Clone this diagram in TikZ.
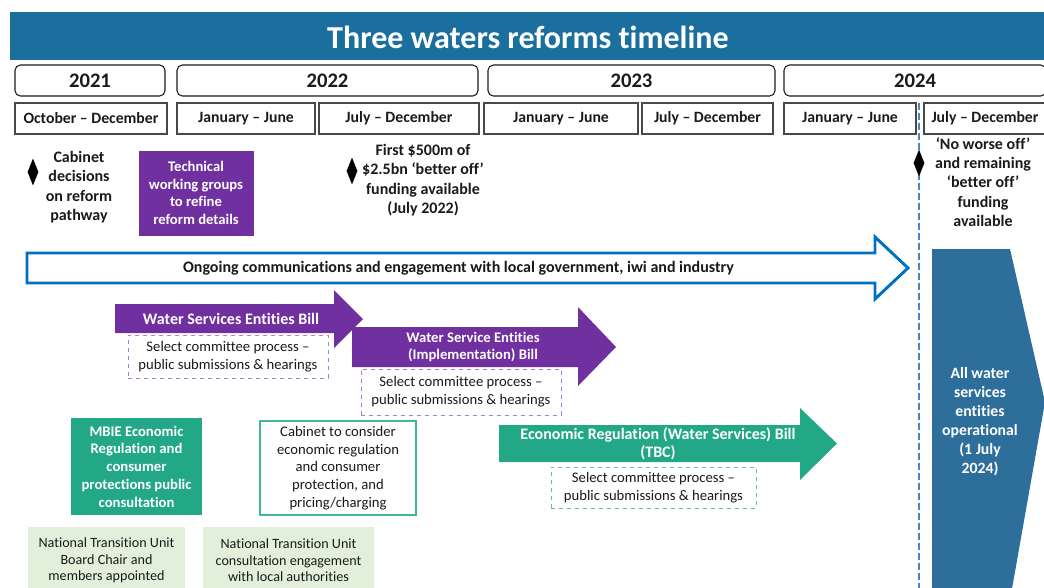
\documentclass[tikz,border=0pt]{standalone}
\usepackage{fontspec}
\setmainfont[Ligatures=NoCommon]{Carlito}
\usetikzlibrary{positioning,shapes.geometric,calc}
\definecolor{ink}{HTML}{1A1A1A}
\definecolor{barblue}{HTML}{1A6F9F}
\definecolor{lineblue}{HTML}{0070C0}
\definecolor{dashblue}{HTML}{4A86BE}
\definecolor{opblue}{HTML}{2E6E9B}
\definecolor{wpurple}{HTML}{7030A0}
\definecolor{lpurple}{HTML}{B07CD0}
\definecolor{wgreen}{HTML}{23A887}
\definecolor{lgreen}{HTML}{5CC2A6}
\definecolor{pale}{HTML}{E2EFDA}
\tikzset{
  wh/.style 2 args={minimum width=#1*0.75pt,minimum height=#2*0.75pt},
  base/.style={inner sep=0pt,align=center,font=\fontsize{11}{13.3}\selectfont,text=ink},
  year/.style={base,draw=ink,rounded corners=4pt,line width=0.8pt,font=\bfseries\fontsize{15.5}{18}\selectfont},
  half/.style={base,draw=ink!80,line width=1pt,font=\bfseries\fontsize{11.8}{14}\selectfont},
  hito/.style={diamond,fill=black,inner sep=0pt,wh={11}{27}},
  nota/.style={base,font=\bfseries\fontsize{12}{14.5}\selectfont},
  caja/.style={base,font=\bfseries\fontsize{11}{13.3}\selectfont,text=white},
  rotulo/.style={caja,font=\bfseries\fontsize{12}{13.5}\selectfont},
  proc/.style={base,dashed,line width=0.6pt,fill=white},
  ntu/.style={base,fill=pale,font=\fontsize{10.6}{12.4}\selectfont},
  flecha/.style={line join=miter},
}
\begin{document}
\begin{tikzpicture}[x=0.75pt,y=-0.75pt]
  \useasboundingbox (0,0) rectangle (1044,587);
  \clip (0,0) rectangle (1044,587);
  % title bar
  \fill[barblue] (10,12) rectangle (1044,60);
  \node[base,text=white,font=\bfseries\fontsize{24}{28}\selectfont] (title) at (528,37.5) {Three waters reforms timeline};
  % years and half years
  \node[year,wh={150}{31}] (y21) at (90,80.5) {2021};
  \node[year,wh={301}{31}] (y22) at (327.5,80.5) {2022};
  \node[year,wh={287}{31}] (y23) at (631.5,80.5) {2023};
  \node[year,wh={262}{31}] (y24) at (915,80.5) {2024};
  \node[half,wh={152}{31}] (h1) at (91,118.5) {October -- December};
  \node[half,wh={138}{31}] (h2) at (246,118.5) {January -- June};
  \node[half,wh={160}{31}] (h3) at (399,118.5) {July -- December};
  \node[half,wh={154}{31}] (h4) at (561,118.5) {January -- June};
  \node[half,wh={131}{31}] (h5) at (707.5,118.5) {July -- December};
  \node[half,wh={132}{31}] (h6) at (850,118.5) {January -- June};
  \node[half,wh={122}{31}] (h7) at (985,118.5) {July -- December};
  \draw[dashblue,line width=1.5pt,dash pattern=on 5pt off 2.5pt] (919,103) -- (919,600);
  % milestones
  \node[hito] (d1) at (33,172) {};
  \node[nota] (cab) at (79,187) {Cabinet\\decisions\\on reform\\pathway};
  \node[caja,fill=wpurple,wh={115}{85}] (tech) at (196,193) {Technical\\working groups\\to refine\\reform details};
  \node[hito] (d2) at (352,171) {};
  \node[nota] (fund) at (423,180) {First \$500m of\\\$2.5bn ‘better off’\\funding available\\(July 2022)};
  \node[hito] (d3) at (919,163) {};
  \node[nota] (worse) at (983,182) {‘No worse off’\\and remaining\\‘better off’\\funding\\available};
  % engagement arrow
  \draw[flecha,lineblue,line width=2.2pt,fill=white] (27,253) -- (875,253) -- (875,237) -- (908,268) -- (875,299) -- (875,283) -- (27,283) -- cycle;
  \node[nota] (eng) at (458.5,268.5) {Ongoing communications and engagement with local government, iwi and industry};
  % bills
  \fill[wpurple] (115,304) -- (334,304) -- (334,290) -- (363,319) -- (334,348) -- (334,333) -- (115,333) -- cycle;
  \node[rotulo] (wseb) at (231,318.5) {Water Services Entities Bill};
  \node[proc,draw=lpurple,wh={200}{43}] (sel1) at (228,356.5) {Select committee process --\\public submissions \& hearings};
  \fill[wpurple] (352,327) -- (578,327) -- (578,307) -- (616,347) -- (578,386) -- (578,367) -- (352,367) -- cycle;
  \node[caja] (impl) at (473,347) {Water Service Entities\\(Implementation) Bill};
  \node[proc,draw=lpurple,wh={200}{46}] (sel2) at (461,392) {Select committee process --\\public submissions \& hearings};
  \fill[wgreen] (499,425) -- (800,425) -- (800,408) -- (837,443.5) -- (800,480) -- (800,462) -- (499,462) -- cycle;
  \node[rotulo] (econ) at (658,444) {Economic Regulation (Water Services) Bill\\(TBC)};
  \node[proc,draw=lgreen,wh={205}{41}] (sel3) at (653.5,487.5) {Select committee process --\\public submissions \& hearings};
  % consultation
  \node[caja,fill=wgreen,wh={131}{97}] (mbie) at (136.5,466.5) {MBIE Economic\\Regulation and\\consumer\\protections public\\consultation};
  \node[base,draw=wgreen!85,line width=1.2pt,fill=white,wh={156}{94}] (cons) at (338,468) {Cabinet to consider\\economic regulation\\and consumer\\protection, and\\pricing/charging};
  \node[ntu,wh={157}{67}] (ntu1) at (106.5,560.5) {National Transition Unit\\Board Chair and\\members appointed};
  \node[ntu,wh={171}{67}] (ntu2) at (288.5,560.5) {National Transition Unit\\consultation engagement\\with local authorities};
  % entities go live
  \fill[opblue] (932,249) -- (1010,249) -- (1045,402) -- (1010,600) -- (932,600) -- cycle;
  \node[caja,font=\bfseries\fontsize{11.8}{14.3}\selectfont] (live) at (980,421.5) {All water\\services\\entities\\operational\\(1 July\\2024)};
\end{tikzpicture}
\end{document}
